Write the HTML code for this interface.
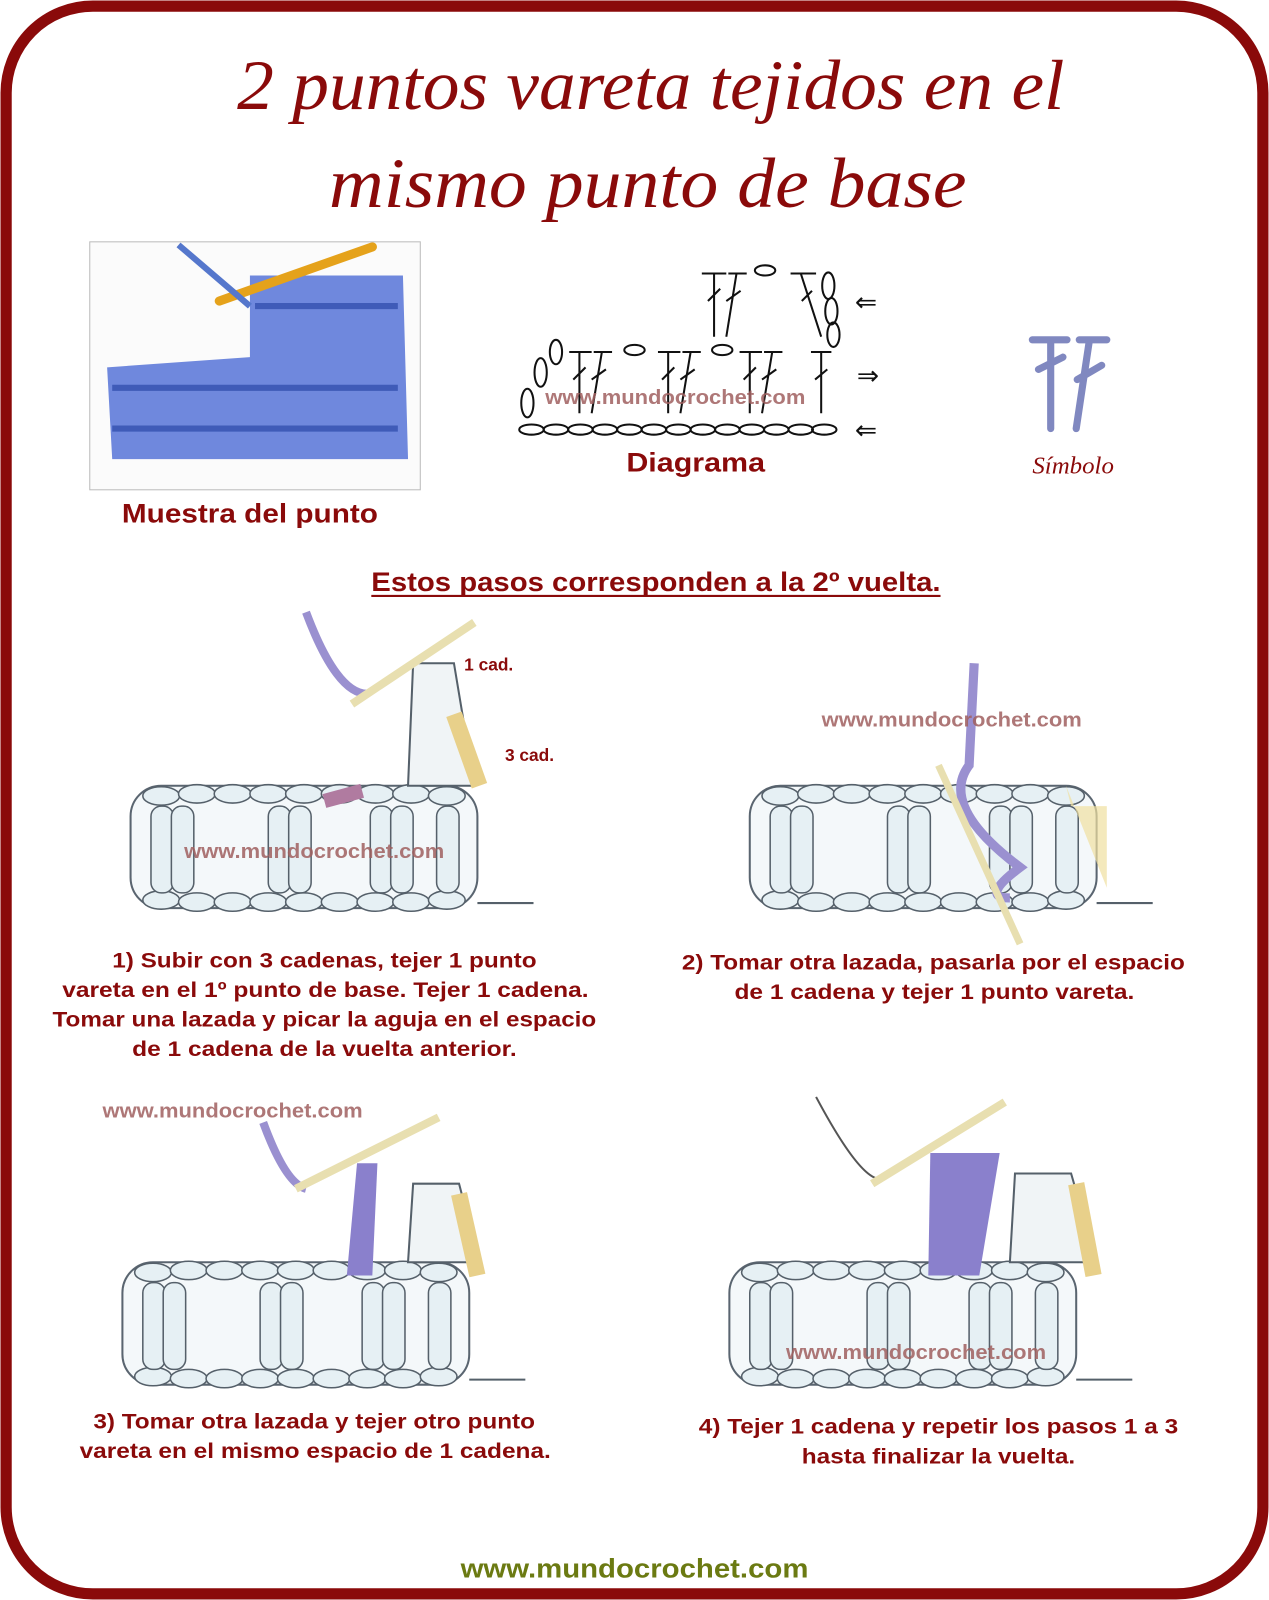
<!DOCTYPE html>
<html><head><meta charset="utf-8"><style>
html,body{margin:0;padding:0;background:#fff;}
svg{display:block;}
</style></head><body>
<svg width="1269" height="1600" viewBox="0 0 1244 1568" preserveAspectRatio="none" xmlns="http://www.w3.org/2000/svg" font-family="Liberation Sans, sans-serif">
<defs>
<g id="row">
  <rect x="0" y="0" width="340" height="120" rx="30" fill="#f4f8fa" stroke="#5a6570" stroke-width="2"/>
  <g fill="#e6f0f4" stroke="#55606a" stroke-width="1.5">
    <ellipse cx="30" cy="10" rx="18" ry="9"/><ellipse cx="65" cy="8" rx="18" ry="9"/><ellipse cx="100" cy="8" rx="18" ry="9"/><ellipse cx="135" cy="8" rx="18" ry="9"/><ellipse cx="170" cy="8" rx="18" ry="9"/><ellipse cx="205" cy="8" rx="18" ry="9"/><ellipse cx="240" cy="8" rx="18" ry="9"/><ellipse cx="275" cy="8" rx="18" ry="9"/><ellipse cx="310" cy="10" rx="18" ry="9"/>
    <ellipse cx="30" cy="112" rx="18" ry="9"/><ellipse cx="65" cy="114" rx="18" ry="9"/><ellipse cx="100" cy="114" rx="18" ry="9"/><ellipse cx="135" cy="114" rx="18" ry="9"/><ellipse cx="170" cy="114" rx="18" ry="9"/><ellipse cx="205" cy="114" rx="18" ry="9"/><ellipse cx="240" cy="114" rx="18" ry="9"/><ellipse cx="275" cy="114" rx="18" ry="9"/><ellipse cx="310" cy="112" rx="18" ry="9"/>
    <rect x="20" y="20" width="22" height="85" rx="10"/><rect x="40" y="20" width="22" height="85" rx="10"/>
    <rect x="135" y="20" width="22" height="85" rx="10"/><rect x="155" y="20" width="22" height="85" rx="10"/>
    <rect x="235" y="20" width="22" height="85" rx="10"/><rect x="255" y="20" width="22" height="85" rx="10"/>
    <rect x="300" y="20" width="22" height="85" rx="10"/>
  </g>
  <line x1="340" y1="115" x2="395" y2="115" stroke="#55606a" stroke-width="2"/>
</g>
</defs>
<rect x="6" y="6" width="1232" height="1556" rx="85" fill="#fff" stroke="#8a0a0a" stroke-width="11"/>
<g font-family="Liberation Serif, serif" font-style="italic" fill="#8a0a0a" font-size="70" text-anchor="middle">
<text x="638" y="107" textLength="811" lengthAdjust="spacingAndGlyphs">2 puntos vareta tejidos en el</text>
<text x="635" y="203" textLength="625" lengthAdjust="spacingAndGlyphs">mismo punto de base</text>
</g>
<!-- sample photo -->
<rect x="88" y="237" width="324" height="243" fill="#fbfbfb" stroke="#bbb"/>
<path d="M105 360 L245 350 L245 270 L395 270 L400 450 L110 450 Z" fill="#6f88dd"/>
<path d="M110 380 L390 380 M110 420 L390 420 M250 300 L390 300" stroke="#3f5bb8" stroke-width="6"/>
<line x1="215" y1="295" x2="365" y2="242" stroke="#e5a21b" stroke-width="9" stroke-linecap="round"/>
<path d="M175 240 L245 300" stroke="#5577cc" stroke-width="6"/>
<text x="245" y="512" text-anchor="middle" font-size="26" font-weight="bold" fill="#8a0a0a" textLength="251" lengthAdjust="spacingAndGlyphs">Muestra del punto</text>
<!-- diagram -->
<g fill="none" stroke="#111" stroke-width="2">
<g><ellipse cx="521" cy="421" rx="12" ry="5"/><ellipse cx="545" cy="421" rx="12" ry="5"/><ellipse cx="569" cy="421" rx="12" ry="5"/><ellipse cx="593" cy="421" rx="12" ry="5"/><ellipse cx="617" cy="421" rx="12" ry="5"/><ellipse cx="641" cy="421" rx="12" ry="5"/><ellipse cx="665" cy="421" rx="12" ry="5"/><ellipse cx="689" cy="421" rx="12" ry="5"/><ellipse cx="713" cy="421" rx="12" ry="5"/><ellipse cx="737" cy="421" rx="12" ry="5"/><ellipse cx="761" cy="421" rx="12" ry="5"/><ellipse cx="785" cy="421" rx="12" ry="5"/><ellipse cx="808" cy="421" rx="12" ry="5"/></g>
<ellipse cx="517" cy="395" rx="6" ry="14"/><ellipse cx="530" cy="365" rx="6" ry="14"/><ellipse cx="545" cy="345" rx="6" ry="12"/>
<path d="M568 405 L568 345 M558 345 L580 345 M562 372 L574 360 M580 405 L590 345 M582 345 L600 345 M580 372 L594 362"/>
<ellipse cx="622" cy="343" rx="10" ry="5"/>
<path d="M655 405 L655 345 M645 345 L667 345 M649 372 L661 360 M667 405 L677 345 M669 345 L687 345 M667 372 L681 362"/>
<ellipse cx="708" cy="343" rx="10" ry="5"/>
<path d="M735 405 L735 345 M725 345 L747 345 M729 372 L741 360 M747 405 L757 345 M749 345 L767 345 M747 372 L761 362"/>
<path d="M805 405 L805 345 M795 345 L815 345 M799 372 L811 362"/>
<path d="M700 330 L700 268 M688 268 L712 268 M694 295 L706 283 M712 330 L722 268 M714 268 L732 268 M712 295 L726 285"/>
<ellipse cx="750" cy="265" rx="10" ry="5"/>
<path d="M805 330 L785 268 M775 268 L800 268 M786 295 L796 285"/>
<ellipse cx="812" cy="280" rx="6" ry="13"/><ellipse cx="815" cy="305" rx="6" ry="13"/><ellipse cx="817" cy="328" rx="6" ry="12"/>
</g>
<text x="662" y="396" text-anchor="middle" font-size="20" font-weight="bold" fill="#a06060" opacity="0.85" textLength="255" lengthAdjust="spacingAndGlyphs">www.mundocrochet.com</text>
<g font-size="26" fill="#111" font-family="DejaVu Sans, sans-serif"><text x="838" y="305">⇐</text><text x="840" y="377">⇒</text><text x="838" y="430">⇐</text></g>
<text x="682" y="462" text-anchor="middle" font-size="26" font-weight="bold" fill="#8a0a0a" textLength="136" lengthAdjust="spacingAndGlyphs">Diagrama</text>
<g stroke="#8088c0" stroke-width="7" stroke-linecap="round" fill="none">
<path d="M1030 420 L1030 333 M1012 333 L1046 333 M1018 362 L1042 350 M1055 420 L1068 333 M1058 333 L1085 333 M1056 372 L1080 358"/>
</g>
<text x="1052" y="464" text-anchor="middle" font-size="24" font-style="italic" font-family="Liberation Serif, serif" fill="#8a0a0a" textLength="80" lengthAdjust="spacingAndGlyphs">Símbolo</text>
<text x="643" y="579" text-anchor="middle" font-size="26" font-weight="bold" fill="#8a0a0a" textLength="558" lengthAdjust="spacingAndGlyphs">Estos pasos corresponden a la 2º vuelta.</text>
<line x1="364" y1="584" x2="922" y2="584" stroke="#8a0a0a" stroke-width="2"/>
<!-- step 1 -->
<use href="#row" x="128" y="770"/>
<path d="M400 770 L405 650 L445 650 L465 770 Z" fill="#f0f4f6" stroke="#55606a" stroke-width="2"/>
<path d="M445 700 L470 770" stroke="#e8d08a" stroke-width="16"/>
<path d="M300 600 Q330 680 360 680" stroke="#9a90d0" stroke-width="8" fill="none"/>
<line x1="345" y1="690" x2="465" y2="610" stroke="#e8dfb0" stroke-width="8"/>
<path d="M318 785 L355 775" stroke="#b07ba0" stroke-width="14"/>
<text x="455" y="657" font-size="17" font-weight="bold" fill="#8a0a0a">1 cad.</text>
<text x="495" y="746" font-size="17" font-weight="bold" fill="#8a0a0a">3 cad.</text>
<text x="308" y="841" text-anchor="middle" font-size="20" font-weight="bold" fill="#a06060" opacity="0.85" textLength="255" lengthAdjust="spacingAndGlyphs">www.mundocrochet.com</text>
<g font-size="21" font-weight="bold" fill="#8a0a0a" text-anchor="middle" lengthAdjust="spacingAndGlyphs">
<text x="318" y="948" textLength="416" lengthAdjust="spacingAndGlyphs">1) Subir con 3 cadenas, tejer 1 punto</text>
<text x="319" y="977" textLength="516" lengthAdjust="spacingAndGlyphs">vareta en el 1º punto de base. Tejer 1 cadena.</text>
<text x="318" y="1006" textLength="533" lengthAdjust="spacingAndGlyphs">Tomar una lazada y picar la aguja en el espacio</text>
<text x="318" y="1035" textLength="377" lengthAdjust="spacingAndGlyphs">de 1 cadena de la vuelta anterior.</text>
</g>
<!-- step 2 -->
<use href="#row" x="735" y="770"/>
<path d="M1045 770 L1050 790 L1085 790 L1085 870 Z" fill="#f0e0a0" opacity="0.7"/>
<path d="M955 650 L950 750 Q920 790 1000 850 Q960 880 990 880" stroke="#9a90d0" stroke-width="9" fill="none"/>
<line x1="920" y1="750" x2="1000" y2="925" stroke="#e8dfb0" stroke-width="7"/>
<text x="933" y="712" text-anchor="middle" font-size="20" font-weight="bold" fill="#a06060" opacity="0.85" textLength="255" lengthAdjust="spacingAndGlyphs">www.mundocrochet.com</text>
<g font-size="21" font-weight="bold" fill="#8a0a0a" text-anchor="middle">
<text x="915" y="950" textLength="493" lengthAdjust="spacingAndGlyphs">2) Tomar otra lazada, pasarla por el espacio</text>
<text x="916" y="979" textLength="392" lengthAdjust="spacingAndGlyphs">de 1 cadena y tejer 1 punto vareta.</text>
</g>
<!-- step 3 -->
<use href="#row" x="120" y="1237"/>
<path d="M400 1237 L405 1160 L450 1160 L470 1237 Z" fill="#f0f4f6" stroke="#55606a" stroke-width="2"/>
<path d="M450 1170 L468 1250" stroke="#e8d08a" stroke-width="16"/>
<path d="M340 1250 L350 1140 L370 1140 L365 1250 Z" fill="#8a80cc"/>
<path d="M258 1100 Q280 1160 300 1165" stroke="#9a90d0" stroke-width="8" fill="none"/>
<line x1="290" y1="1165" x2="430" y2="1095" stroke="#e8dfb0" stroke-width="8"/>
<text x="228" y="1095" text-anchor="middle" font-size="20" font-weight="bold" fill="#a06060" opacity="0.85" textLength="255" lengthAdjust="spacingAndGlyphs">www.mundocrochet.com</text>
<g font-size="21" font-weight="bold" fill="#8a0a0a" text-anchor="middle">
<text x="308" y="1400" textLength="433" lengthAdjust="spacingAndGlyphs">3) Tomar otra lazada y tejer otro punto</text>
<text x="309" y="1429" textLength="462" lengthAdjust="spacingAndGlyphs">vareta en el mismo espacio de 1 cadena.</text>
</g>
<!-- step 4 -->
<use href="#row" x="715" y="1237"/>
<path d="M990 1237 L995 1150 L1050 1150 L1075 1237 Z" fill="#f0f4f6" stroke="#55606a" stroke-width="2"/>
<path d="M1055 1160 L1072 1250" stroke="#e8d08a" stroke-width="16"/>
<path d="M910 1250 L912 1130 L980 1130 L960 1250 Z" fill="#8a80cc"/>
<path d="M800 1075 Q840 1150 860 1155" stroke="#555" stroke-width="2" fill="none"/>
<line x1="855" y1="1160" x2="985" y2="1080" stroke="#e8dfb0" stroke-width="8"/>
<text x="898" y="1332" text-anchor="middle" font-size="20" font-weight="bold" fill="#a06060" opacity="0.85" textLength="255" lengthAdjust="spacingAndGlyphs">www.mundocrochet.com</text>
<g font-size="21" font-weight="bold" fill="#8a0a0a" text-anchor="middle">
<text x="920" y="1405" textLength="470" lengthAdjust="spacingAndGlyphs">4) Tejer 1 cadena y repetir los pasos 1 a 3</text>
<text x="920" y="1434" textLength="268" lengthAdjust="spacingAndGlyphs">hasta finalizar la vuelta.</text>
</g>
<text x="622" y="1546" text-anchor="middle" font-size="26" font-weight="bold" fill="#6b7a12" textLength="341" lengthAdjust="spacingAndGlyphs">www.mundocrochet.com</text>
</svg>
</body></html>
